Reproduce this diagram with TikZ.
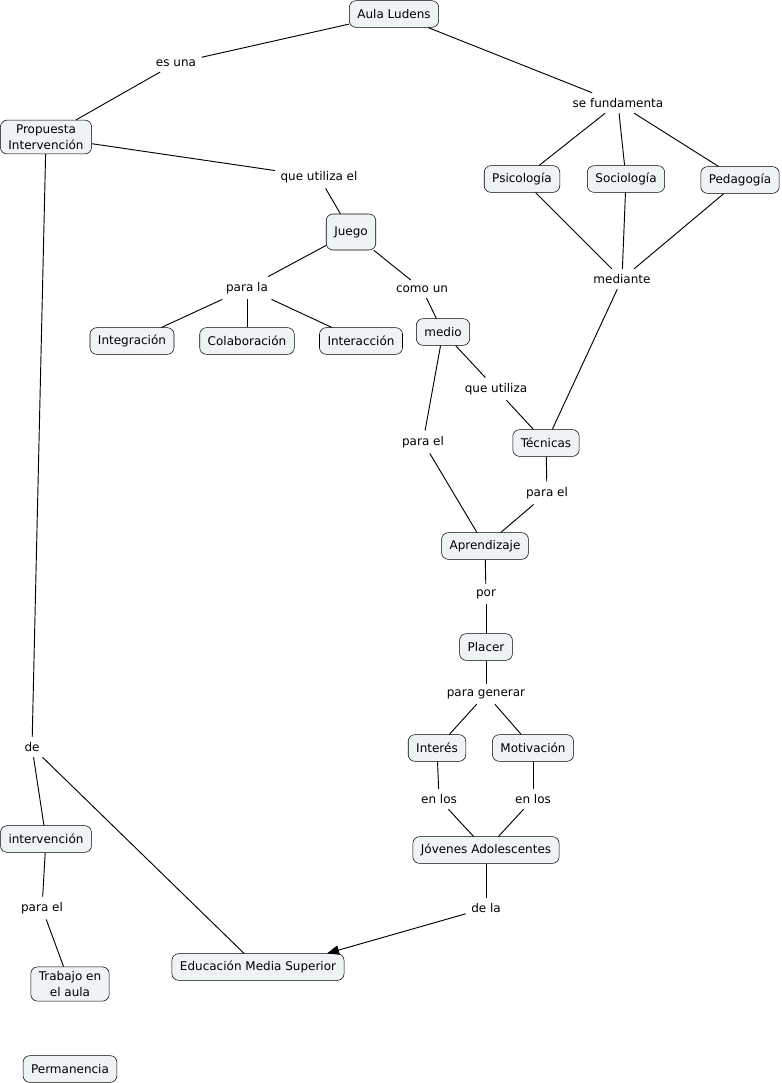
\documentclass[tikz,border=0pt]{standalone}
\usepackage{fontspec}
\setmainfont{DejaVu Sans}
\usetikzlibrary{arrows.meta}
\definecolor{cmapfill}{RGB}{238,243,246}
\tikzstyle{concept} = [rectangle, draw, fill=cmapfill, rounded corners=5pt,
    align=center, inner xsep=6pt, minimum height=20pt,
    font=\fontsize{9}{12}\selectfont]
\tikzstyle{linkw} = [inner sep=4pt, font=\fontsize{9}{12}\selectfont]
\tikzstyle{conn} = [draw, line width=0.7pt]

\begin{document}
\begin{tikzpicture}[x=0.75pt, y=-0.75pt]
  \fill[white] (0,0) rectangle (782,1083);
  \useasboundingbox (0,0) rectangle (782,1083);

  % concepts
  \node[concept] (aula) at (394,14) {Aula Ludens};
  \node[concept] (prop) at (46,137) {Propuesta\\Intervención};
  \node[concept, minimum height=27pt] (juego) at (351,232) {Juego};
  \node[concept] (psico) at (522,179) {Psicología};
  \node[concept] (socio) at (626,179) {Sociología};
  \node[concept] (peda) at (740,180) {Pedagogía};
  \node[concept] (integ) at (132,341) {Integración};
  \node[concept] (colab) at (247,341) {Colaboración};
  \node[concept] (inter) at (361,341) {Interacción};
  \node[concept] (medio) at (443,332) {medio};
  \node[concept] (tecn) at (546,443) {Técnicas};
  \node[concept] (apren) at (485,546) {Aprendizaje};
  \node[concept] (placer) at (486,647) {Placer};
  \node[concept] (interes) at (437,748) {Interés};
  \node[concept] (motiv) at (533,748) {Motivación};
  \node[concept] (joven) at (486,850) {Jóvenes Adolescentes};
  \node[concept] (interv) at (46,839) {intervención};
  \node[concept] (trab) at (70,984) {Trabajo en\\el aula};
  \node[concept] (edu) at (258,967) {Educación Media Superior};
  \node[concept] (perm) at (70,1069) {Permanencia};

  % linking phrases
  \node[linkw] (esuna) at (176,63) {es una};
  \node[linkw] (sefund) at (618,103) {se fundamenta};
  \node[linkw] (queut) at (319,177) {que utiliza el};
  \node[linkw] (parala) at (247,288) {para la};
  \node[linkw] (comoun) at (422,289) {como un};
  \node[linkw] (median) at (622,279) {mediante};
  \node[linkw] (queut2) at (496,389) {que utiliza};
  \node[linkw] (parael1) at (423,442) {para el};
  \node[linkw] (parael2) at (547,493) {para el};
  \node[linkw] (por) at (486,594) {por};
  \node[linkw] (paragen) at (486,694) {para generar};
  \node[linkw] (enlos1) at (439,799) {en los};
  \node[linkw] (enlos2) at (533,799) {en los};
  \node[linkw] (de) at (32,747) {de};
  \node[linkw] (parael3) at (42,908) {para el};
  \node[linkw] (dela) at (486,908) {de la};

  % connections
  \path[conn] (aula) edge (esuna) (esuna) edge (prop);
  \path[conn] (aula) edge (sefund);
  \path[conn] (sefund) edge (psico) (sefund) edge (socio) (sefund) edge (peda);
  \path[conn] (prop) edge (queut) (queut) edge (juego);
  \path[conn] (prop) edge (de);
  \path[conn] (de) edge (interv) (de) edge (edu);
  \path[conn] (juego) edge (parala);
  \path[conn] (parala) edge (integ) (parala) edge (colab) (parala) edge (inter);
  \path[conn] (juego) edge (comoun) (comoun) edge (medio);
  \path[conn] (psico) edge (median) (socio) edge (median) (peda) edge (median);
  \path[conn] (median) edge (tecn);
  \path[conn] (medio) edge (queut2) (queut2) edge (tecn);
  \path[conn] (medio) edge (parael1) (parael1) edge (apren);
  \path[conn] (tecn) edge (parael2) (parael2) edge (apren);
  \path[conn] (apren) edge (por) (por) edge (placer);
  \path[conn] (placer) edge (paragen);
  \path[conn] (paragen) edge (interes) (paragen) edge (motiv);
  \path[conn] (interes) edge (enlos1) (enlos1) edge (joven);
  \path[conn] (motiv) edge (enlos2) (enlos2) edge (joven);
  \path[conn] (joven) edge (dela);
  \path[conn, -{Triangle[length=9pt, width=7pt]}] (dela) edge ([xshift=-13pt]edu.north east);
  \path[conn] (interv) edge (parael3) (parael3) edge (trab);
\end{tikzpicture}
\end{document}
